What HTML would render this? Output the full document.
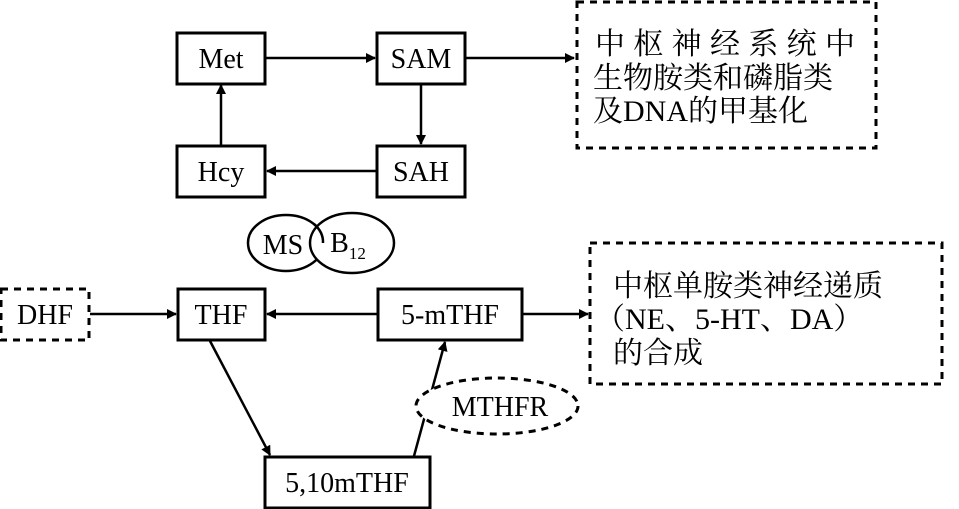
<!DOCTYPE html>
<html><head><meta charset="utf-8"><style>
html,body{margin:0;padding:0;background:#fff;width:959px;height:509px;overflow:hidden}
svg text{font-family:"Liberation Serif","Noto Serif CJK SC",serif;fill:#000}
</style></head><body>
<svg width="959" height="509" viewBox="0 0 959 509" xmlns="http://www.w3.org/2000/svg">
<defs><marker id="a" markerWidth="10" markerHeight="10" refX="9" refY="5" orient="auto" markerUnits="userSpaceOnUse"><path d="M0,0 L10,5 L0,10 z" fill="#000"/></marker></defs>
<g fill="#fff" stroke="#000" stroke-width="3">
<rect x="177" y="33" width="88" height="51"/>
<rect x="377" y="33" width="88" height="51"/>
<rect x="177" y="146" width="88" height="51"/>
<rect x="377" y="146" width="88" height="51"/>
<rect x="178" y="289" width="87" height="51"/>
<rect x="378" y="289" width="144" height="51"/>
<rect x="265" y="457" width="165" height="51"/>
</g>
<g fill="none" stroke="#000" stroke-width="3" stroke-dasharray="7,6">
<rect x="577" y="2" width="299" height="146"/>
<rect x="590" y="243" width="352" height="141"/>
<rect x="1" y="289" width="88" height="51"/>
</g>
<g stroke="#000" stroke-width="2.5" fill="none" marker-end="url(#a)">
<line x1="266" y1="58" x2="375" y2="58"/>
<line x1="466" y1="58" x2="574" y2="58"/>
<line x1="421" y1="85" x2="421" y2="144"/>
<line x1="376" y1="171" x2="267" y2="171"/>
<line x1="221" y1="145" x2="221" y2="85"/>
<line x1="90" y1="314" x2="176" y2="314"/>
<line x1="377" y1="314" x2="267" y2="314"/>
<line x1="523" y1="314" x2="588" y2="314"/>
<line x1="210" y1="341" x2="270" y2="455"/>
<line x1="414" y1="456" x2="445" y2="342"/>
</g>
<ellipse cx="497" cy="406" rx="81" ry="28" fill="#fff" stroke="#000" stroke-width="3" stroke-dasharray="7,6"/>
<ellipse cx="286" cy="243" rx="38" ry="28" fill="#fff" stroke="#000" stroke-width="2.5"/>
<ellipse cx="352" cy="243" rx="42" ry="30" fill="#fff" stroke="#000" stroke-width="2.5"/>
<path d="M314,224 A38,28 0 0 1 323,243" fill="none" stroke="#000" stroke-width="2.5"/>
<g font-size="28" text-anchor="middle">
<text x="221" y="68">Met</text>
<text x="421" y="68">SAM</text>
<text x="221" y="181">Hcy</text>
<text x="421" y="181">SAH</text>
<text x="45" y="324">DHF</text>
<text x="221" y="324">THF</text>
<text x="450" y="324">5-mTHF</text>
<text x="347" y="492">5,10mTHF</text>
<text x="500" y="416">MTHFR</text>
<text x="283" y="254">MS</text>
<text x="348" y="252">B<tspan font-size="17" dy="7">12</tspan></text>
</g>
<g font-size="30">
<text x="595" y="54" textLength="260" lengthAdjust="spacing">中枢神经系统中</text>
<text x="593" y="88">生物胺类和磷脂类</text>
<text x="593" y="121">及DNA的甲基化</text>
<text x="613" y="296">中枢单胺类神经递质</text>
<text x="595" y="329">（NE、5-HT、DA）</text>
<text x="613" y="363">的合成</text>
</g>
</svg>
</body></html>
